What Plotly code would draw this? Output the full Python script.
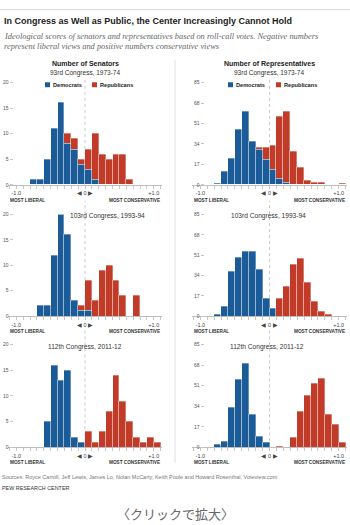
import plotly.graph_objects as go

# ---------------- data ----------------
bin_left = [-0.8, -0.7, -0.6, -0.5, -0.4, -0.3, -0.2, -0.1, 0.0, 0.1,
            0.2, 0.3, 0.4, 0.5, 0.6, 0.7, 0.8, 0.9, 1.0]
bin_width = 0.1

senate_93_dem = [1, 1, 5, 11, 16, 8, 7, 4, 3, 1, 0, 0, 0, 0, 0, 0, 0, 0, 0]
senate_93_rep = [0, 0, 0, 0, 0, 2, 2, 1, 4, 9, 6, 5, 6, 6, 1, 0, 0, 0, 0]
house_93_dem = [1, 11, 22, 46, 61, 36, 29, 21, 13, 5, 2, 0, 0, 0, 0, 0, 0, 0, 0]
house_93_rep = [0, 0, 0, 0, 0, 0, 2, 10, 20, 52, 59, 28, 14, 4, 2, 2, 0, 0, 1]

senate_103_dem = [0, 2, 2, 12, 20, 16, 3, 1, 1, 0, 0, 0, 0, 0, 0, 0, 0, 0, 0]
senate_103_rep = [0, 0, 0, 0, 0, 0, 0, 1, 6, 3, 9, 10, 7, 4, 0, 4, 0, 0, 0]
house_103_dem = [1, 8, 37, 49, 54, 54, 39, 15, 6, 0, 0, 0, 0, 0, 0, 0, 0, 0, 0]
house_103_rep = [0, 0, 0, 0, 0, 0, 0, 0, 0, 15, 25, 43, 48, 28, 12, 4, 1, 0, 0]

senate_112_dem = [0, 0, 5, 16, 13, 15, 2, 1, 0, 0, 0, 0, 0, 0, 0, 0, 0, 0, 0]
senate_112_rep = [0, 0, 0, 0, 0, 0, 0, 0, 3, 1, 3, 7, 14, 9, 5, 2, 1, 2, 1]
house_112_dem = [2, 5, 33, 56, 69, 27, 9, 4, 0, 0, 0, 0, 0, 0, 0, 0, 0, 0, 0]
house_112_rep = [0, 0, 0, 0, 0, 0, 0, 0, 0, 1, 0, 8, 30, 43, 53, 57, 27, 19, 4]

senate_yticks = [0, 5, 10, 15, 20]
house_yticks = [0, 17, 34, 51, 68, 85]
x_tick_labels = {-1.0: "-1.0", 0.0: "\u25c0 0 \u25b6", 1.0: "+1.0"}
congress_labels = ["93rd Congress, 1973-74", "103rd Congress, 1993-94", "112th Congress, 2011-12"]

# ---------------- styling / layout helpers ----------------
W, H = 350, 525
BLUE = "#1b5c98"
RED = "#c13b28"
FONT = "Liberation Sans"


def px(x):
    return x / W


def py(y):
    return 1 - y / H


centers = [round(b + bin_width / 2, 3) for b in bin_left]


def nz(vals):
    return [v if v else None for v in vals]


LEFT_X = [px(8), px(162)]
RIGHT_X = [px(192), px(347)]
ROWS = [(80.5, 184), (214, 316.7), (345.5, 449.5)]

panels = [
    (senate_93_dem, senate_93_rep, 0, 0),
    (house_93_dem, house_93_rep, 1, 0),
    (senate_103_dem, senate_103_rep, 0, 1),
    (house_103_dem, house_103_rep, 1, 1),
    (senate_112_dem, senate_112_rep, 0, 2),
    (house_112_dem, house_112_rep, 1, 2),
]

fig = go.Figure()
layout = dict(
    width=W, height=H, margin=dict(l=0, r=0, t=0, b=0),
    paper_bgcolor="white", plot_bgcolor="white",
    barmode="stack", bargap=0, showlegend=False,
    font=dict(family=FONT, color="#333"),
)

xt_vals = [round(-1.1 + 0.1 * i, 1) for i in range(23)]
xt_text = [x_tick_labels.get(v, "") for v in xt_vals]

shapes = []
annotations = []

for i, (dem, rep, col, row) in enumerate(panels):
    k = "" if i == 0 else str(i + 1)
    xa, ya = "x" + k, "y" + k
    fig.add_trace(go.Bar(x=centers, y=nz(dem), width=bin_width, marker=dict(color=BLUE, line=dict(color="rgba(255,255,255,0.55)", width=0.6)),
                         xaxis=xa, yaxis=ya, name="Democrats", hoverinfo="x+y"))
    fig.add_trace(go.Bar(x=centers, y=nz(rep), width=bin_width, marker=dict(color=RED, line=dict(color="rgba(255,255,255,0.55)", width=0.6)),
                         xaxis=xa, yaxis=ya, name="Republicans", hoverinfo="x+y"))
    ytop, ybot = ROWS[row]
    yticks = senate_yticks if col == 0 else house_yticks
    layout["xaxis" + k] = dict(
        domain=LEFT_X if col == 0 else RIGHT_X, range=[-1.12, 1.12], anchor=ya,
        showgrid=False, zeroline=False, showline=True, linecolor="#bdbdbd", linewidth=1,
        tickmode="array", tickvals=xt_vals, ticktext=xt_text, ticks="outside", ticklen=3,
        tickcolor="#c8c8c8", tickwidth=1, tickfont=dict(size=5.5, color="#444"), fixedrange=True,
    )
    layout["yaxis" + k] = dict(
        domain=[py(ybot), py(ytop)], range=[0, yticks[-1]], anchor="free",
        position=px(13) if col == 0 else px(204),
        showgrid=False, zeroline=False, showline=False,
        tickmode="array", tickvals=yticks, ticks="outside", ticklen=3.5, tickcolor="#c8c8c8",
        tickfont=dict(size=5, color="#555"), fixedrange=True,
    )
    # dotted zero line
    top_ext = 1.043 if row == 0 else (1.136 if row == 1 else 1.15)
    shapes.append(dict(type="line", xref=xa, yref=ya + " domain", x0=0, x1=0, y0=0, y1=top_ext,
                       line=dict(color="#b5b5b5", width=0.7, dash="dot"), layer="below"))
    # MOST LIBERAL / MOST CONSERVATIVE
    annotations.append(dict(text="<b>MOST LIBERAL</b>", xref=xa + " domain", yref=ya + " domain",
                            x=0, y=0, xanchor="left", yanchor="top", yshift=-11, showarrow=False,
                            font=dict(size=4.7, color="#333")))
    annotations.append(dict(text="<b>MOST CONSERVATIVE</b>", xref=xa + " domain", yref=ya + " domain",
                            x=1, y=0, xanchor="right", yanchor="top", yshift=-11, showarrow=False,
                            font=dict(size=4.7, color="#333")))
    if row > 0:
        cy = 215 if row == 1 else 348.3
        cx = (107 if col == 0 else 268) if row == 1 else (84.5 if col == 0 else 267)
        annotations.append(dict(text=congress_labels[row], xref="paper", yref="paper", x=px(cx), y=py(cy),
                                xanchor="center", yanchor="middle", showarrow=False,
                                font=dict(size=6.6, color="#333")))

# top headers
for cx, head in [(85, "Number of Senators"), (269, "Number of Representatives")]:
    annotations.append(dict(text="<b>" + head + "</b>", xref="paper", yref="paper", x=px(cx), y=py(61.7),
                            xanchor="center", yanchor="middle", showarrow=False, font=dict(size=7, color="#222")))
    annotations.append(dict(text=congress_labels[0], xref="paper", yref="paper", x=px(cx), y=py(70.7),
                            xanchor="center", yanchor="middle", showarrow=False, font=dict(size=6.5, color="#333")))

# legends (top row)
for bx, rx in [(45, 92), (228, 276)]:
    for sx, color, label in [(bx, BLUE, "Democrats"), (rx, RED, "Republicans")]:
        shapes.append(dict(type="rect", xref="paper", yref="paper", x0=px(sx), x1=px(sx + 5),
                           y0=py(85.2), y1=py(80.2), fillcolor=color, line=dict(width=0)))
        annotations.append(dict(text="<b>" + label + "</b>", xref="paper", yref="paper", x=px(sx + 6), y=py(82.7),
                                xanchor="left", yanchor="middle", showarrow=False, font=dict(size=5.6, color="#222")))

# title & subtitle
annotations.append(dict(text="<b>In Congress as Well as Public, the Center Increasingly Cannot Hold</b>",
                        xref="paper", yref="paper", x=px(1.5), y=py(18.3), xanchor="left", yanchor="middle",
                        showarrow=False, font=dict(size=9, color="#222")))
for yy, line in [(33.5, "Ideological scores of senators and representatives based on roll-call votes. Negative numbers"),
                 (44.5, "represent liberal views and positive numbers conservative views")]:
    annotations.append(dict(text="<i>" + line + "</i>", xref="paper", yref="paper", x=px(1.5), y=py(yy),
                            xanchor="left", yanchor="middle", showarrow=False,
                            font=dict(size=8.4, color="#666", family="Liberation Serif")))

# footer
annotations.append(dict(text="Sources: Royce Carroll, Jeff Lewis, James Lo, Nolan McCarty, Keith Poole and Howard Rosenthal, Voteview.com",
                        xref="paper", yref="paper", x=0, y=py(479.3), xanchor="left", yanchor="middle",
                        showarrow=False, font=dict(size=5.5, color="#777")))
annotations.append(dict(text="PEW RESEARCH CENTER", xref="paper", yref="paper", x=0, y=py(491),
                        xanchor="left", yanchor="middle", showarrow=False, font=dict(size=5.4, color="#333")))
annotations.append(dict(text="〈クリックで拡大〉", xref="paper", yref="paper", x=0.5, y=py(516),
                        xanchor="center", yanchor="middle", showarrow=False,
                        font=dict(size=13, color="#666", family="Noto Sans CJK JP")))

# rules
shapes.append(dict(type="line", xref="paper", yref="paper", x0=0, x1=1, y0=py(6.7), y1=py(6.7),
                   line=dict(color="#d8d8d8", width=1)))
shapes.append(dict(type="line", xref="paper", yref="paper", x0=px(175), x1=px(175), y0=py(58), y1=py(465),
                   line=dict(color="#e0e0e0", width=1)))

layout["shapes"] = shapes
layout["annotations"] = annotations
fig.update_layout(**layout)
fig.write_html("out.html")
